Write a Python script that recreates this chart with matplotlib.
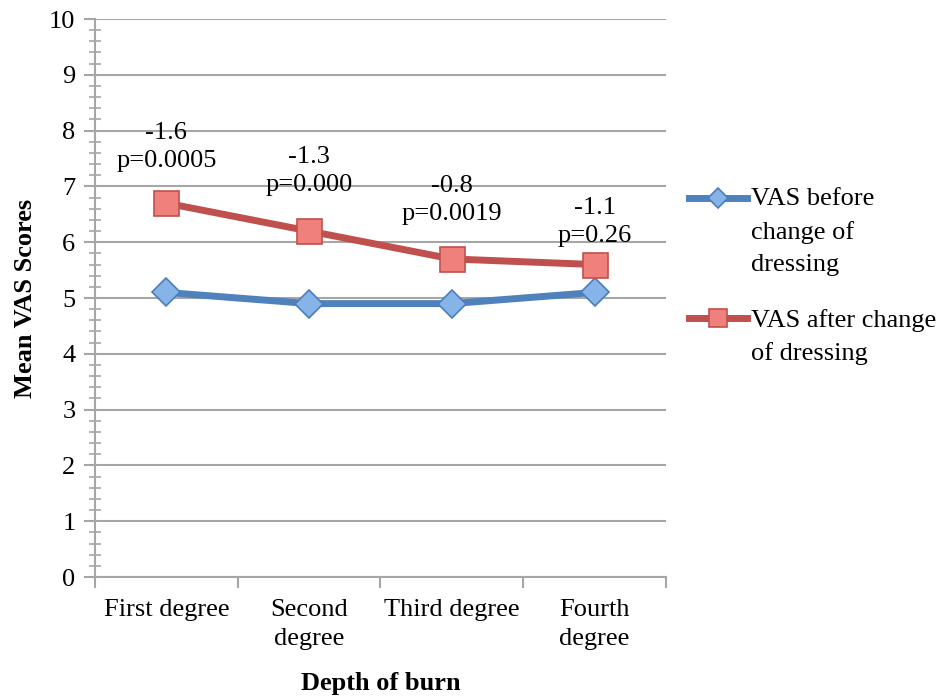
import matplotlib.pyplot as plt
from matplotlib.ticker import MultipleLocator

plt.rcParams['font.family'] = ['Liberation Serif', 'DejaVu Serif']

# Данные графика
categories = ["First degree", "Second\ndegree", "Third degree", "Fourth\ndegree"]
vas_before = [5.1, 4.9, 4.9, 5.1]
vas_after = [6.7, 6.2, 5.7, 5.6]
diff_labels = ["-1.6\np=0.0005", "-1.3\np=0.000", "-0.8\np=0.0019", "-1.1\np=0.26"]
label_y = [7.70, 7.28, 6.76, 6.37]

grid_col = "#a6a6a6"
fs = 19

fig = plt.figure(figsize=(9.4, 6.99), dpi=100)
ax = fig.add_axes([0.101, 0.1745, 0.6075, 0.7983])

x = list(range(len(categories)))
ax.plot(x, vas_before, color="#4f81bd", lw=5, marker="D", ms=14,
        mfc="#86b4e8", mec="#4a7ebb", mew=1.2, label="VAS before\nchange of\ndressing",
        zorder=3)
ax.plot(x, vas_after, color="#c0504d", lw=5, marker="s", ms=18,
        mfc="#f0807c", mec="#c0504d", mew=1.2, label="VAS after change\nof dressing",
        zorder=3)

for i, txt in enumerate(diff_labels):
    ax.text(x[i], label_y[i], txt, ha="center", va="center", fontsize=fs,
            linespacing=1.35)

ax.set_xlim(-0.5, 3.5)
ax.set_ylim(0, 10)
ax.yaxis.set_major_locator(MultipleLocator(1))
ax.yaxis.set_minor_locator(MultipleLocator(0.2))
ax.set_xticks([i - 0.5 for i in range(5)])
ax.set_xticklabels([])
ax.set_xticks(x, minor=True)
ax.set_xticklabels(categories, minor=True, fontsize=fs, linespacing=1.4)
ax.tick_params(axis="x", which="minor", length=0, pad=16)
ax.tick_params(axis="x", which="major", length=8, width=1.5, color=grid_col)
ax.tick_params(axis="y", which="major", length=8, width=1.5, color=grid_col,
               labelsize=fs, pad=6)
ax.tick_params(axis="y", which="minor", length=9, width=1.2, color=grid_col,
               direction="inout")

ax.grid(axis="y", which="major", color=grid_col, lw=1.5)
ax.set_axisbelow(True)
for side in ["top", "right"]:
    ax.spines[side].set_visible(False)
for side in ["left", "bottom"]:
    ax.spines[side].set_color(grid_col)
    ax.spines[side].set_linewidth(1.5)

ax.set_ylabel("Mean VAS Scores", fontsize=fs, fontweight="bold", labelpad=9)
ax.set_xlabel("Depth of burn", fontsize=fs, fontweight="bold", labelpad=16)

leg = ax.legend(loc="upper left", bbox_to_anchor=(0.998, 0.739), frameon=False,
                fontsize=fs, handlelength=2.2, handletextpad=0.15,
                labelspacing=1.25, markerscale=0.75)
for t in leg.get_texts():
    t.set_linespacing(1.58)
# ручку легенды выравниваем по первой строке подписи
for col in leg._legend_handle_box.get_children():
    for item in col.get_children():
        item.align = "top"

fig.savefig("out.png", dpi=100)
